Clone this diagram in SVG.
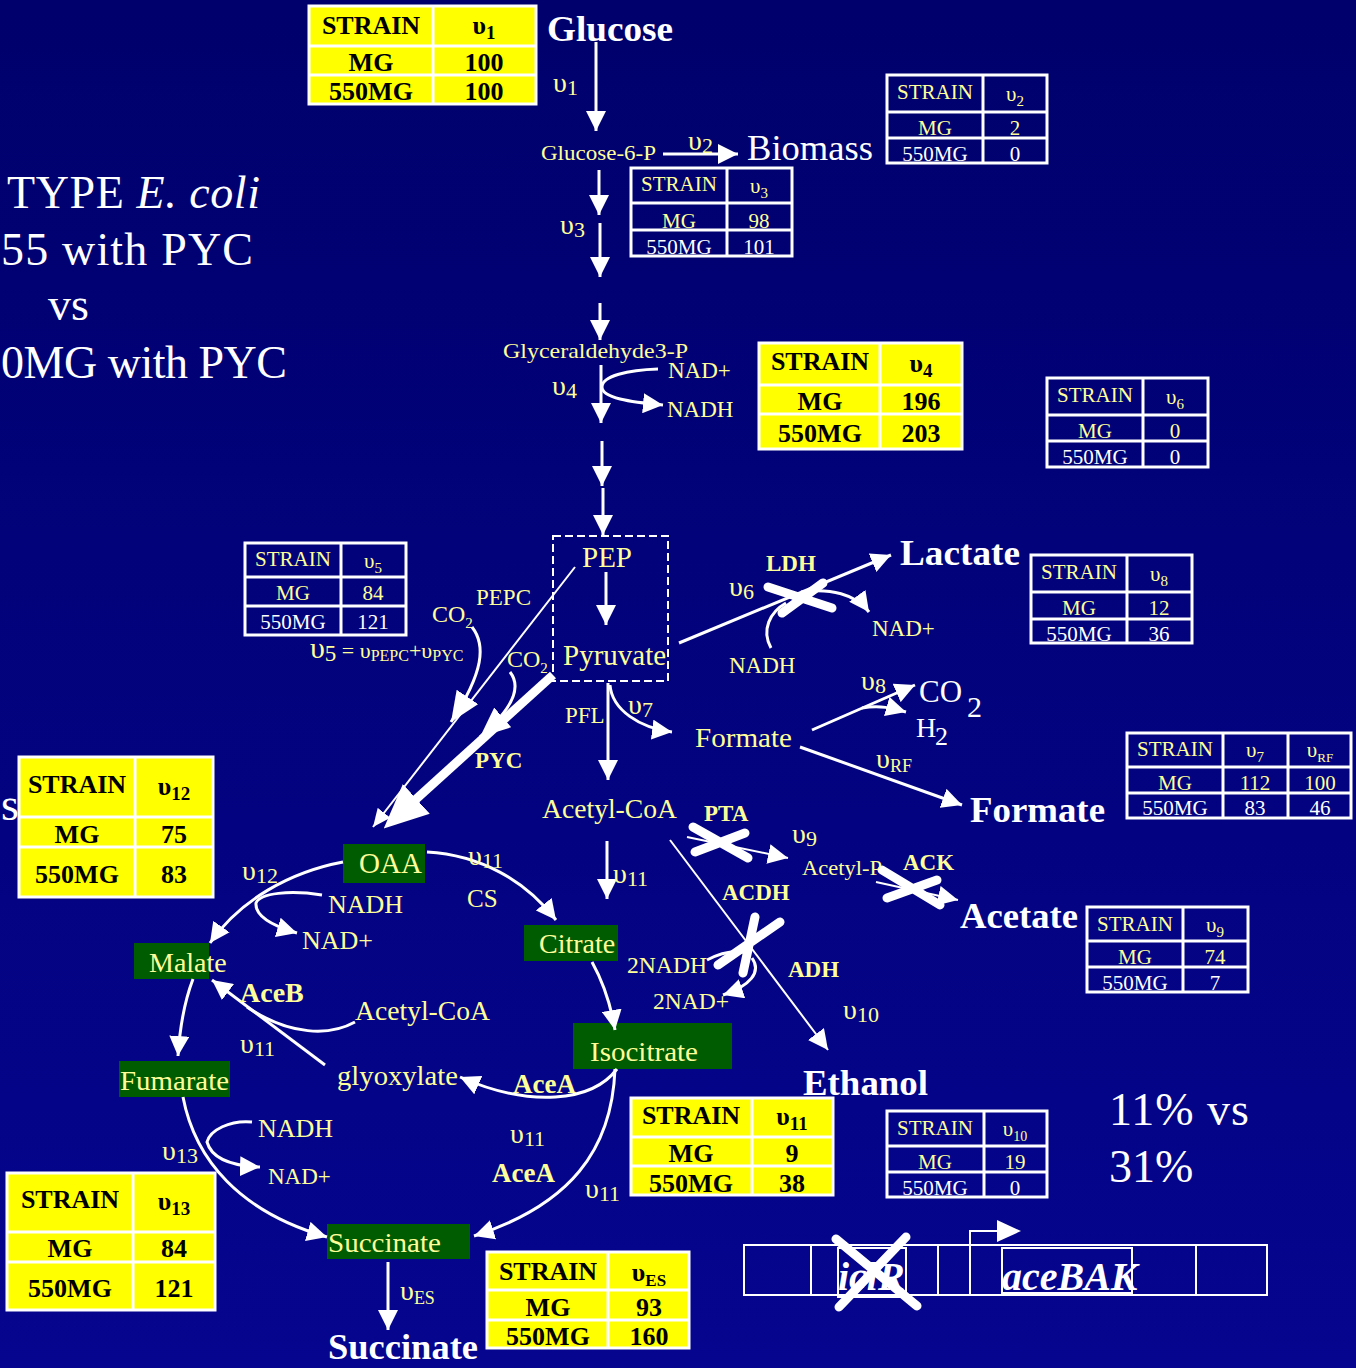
<svg xmlns="http://www.w3.org/2000/svg" width="1356" height="1368" viewBox="0 0 1356 1368">
<defs>
<linearGradient id="bg" x1="0" y1="0" x2="0" y2="1">
<stop offset="0" stop-color="#00006c"/>
<stop offset="1" stop-color="#05058f"/>
</linearGradient>
<marker id="ah" viewBox="0 0 20 20" markerWidth="20" markerHeight="20" refX="20" refY="10" orient="auto" markerUnits="userSpaceOnUse"><path d="M0,0L20,10L0,20z" fill="#fff"/></marker>
<marker id="as" viewBox="0 0 18 16" markerWidth="18" markerHeight="16" refX="18" refY="8" orient="auto" markerUnits="userSpaceOnUse"><path d="M0,0L18,8L0,16z" fill="#fff"/></marker>
<marker id="am" viewBox="0 0 30 26" markerWidth="30" markerHeight="26" refX="30" refY="13" orient="auto" markerUnits="userSpaceOnUse"><path d="M0,0L30,13L0,26z" fill="#fff"/></marker>
<marker id="al" viewBox="0 0 44 40" markerWidth="44" markerHeight="40" refX="18" refY="20" orient="auto" markerUnits="userSpaceOnUse"><path d="M0,0L44,20L0,40z" fill="#fff"/></marker>
<style>
text{font-family:'Liberation Serif','Times New Roman',serif}
.y{fill:#ffff99}
.w{fill:#ffffff}
.b{font-weight:bold}
.k{fill:#000;font-weight:bold;font-size:26px;text-anchor:middle}
.t{font-size:21px;text-anchor:middle}
.ln{stroke:#fff;stroke-width:3;fill:none}
.th{stroke:#fff;stroke-width:2;fill:none}
.ar{marker-end:url(#ah)}
.x{stroke:#fff;stroke-width:9;stroke-linecap:round;fill:none}
.tw{fill:none;stroke:#fff;stroke-width:3}
.ty{fill:#ffff00;stroke:#fff;stroke-width:3}
.gl{stroke:#fff;stroke-width:3;fill:none}
.gb{fill:#005c00}
.gene{fill:none;stroke:#fff;stroke-width:2}
</style>
</defs>
<rect width="1356" height="1368" fill="url(#bg)"/>

<!-- Title -->
<g id="title" class="w" font-size="46">
<text x="7" y="208" textLength="253" lengthAdjust="spacing">TYPE <tspan font-style="italic">E. coli</tspan></text>
<text x="1" y="265" textLength="252" lengthAdjust="spacing">55 with PYC</text>
<text x="48" y="320">vs</text>
<text x="1" y="378" textLength="286" lengthAdjust="spacing">0MG with PYC</text>
<text x="1" y="820">s</text>
</g>

<!-- Tables -->
<g id="table-v1">
<rect class="ty" x="309" y="6" width="227" height="98"/>
<path class="gl" d="M433,6V104M309,46H536M309,75H536"/>
<text class="k" x="371" y="34">STRAIN</text><text class="k" x="484" y="34">υ<tspan font-size="19" dy="5">1</tspan></text>
<text class="k" x="371" y="71">MG</text><text class="k" x="484" y="71">100</text>
<text class="k" x="371" y="100">550MG</text><text class="k" x="484" y="100">100</text>
</g>
<g id="table-v2">
<rect class="tw" x="887" y="75" width="160" height="88"/>
<path class="gl" d="M983,75V163M887,112H1047M887,138H1047"/>
<text class="t y" x="935" y="99">STRAIN</text><text class="t y" x="1015" y="101">υ<tspan font-size="15" dy="5">2</tspan></text>
<text class="t y" x="935" y="135">MG</text><text class="t y" x="1015" y="135">2</text>
<text class="t w" x="935" y="161">550MG</text><text class="t w" x="1015" y="161">0</text>
</g>
<g id="table-v3">
<rect class="tw" x="631" y="168" width="161" height="88"/>
<path class="gl" d="M727,168V256M631,203H792M631,230H792"/>
<text class="t y" x="679" y="191">STRAIN</text><text class="t y" x="759" y="193">υ<tspan font-size="15" dy="5">3</tspan></text>
<text class="t y" x="679" y="228">MG</text><text class="t y" x="759" y="228">98</text>
<text class="t w" x="679" y="254">550MG</text><text class="t w" x="759" y="254">101</text>
</g>
<g id="table-v4">
<rect class="ty" x="759" y="343" width="203" height="106"/>
<path class="gl" d="M880,343V449M759,385H962M759,414H962"/>
<text class="k" x="820" y="370">STRAIN</text><text class="k" x="921" y="372">υ<tspan font-size="19" dy="5">4</tspan></text>
<text class="k" x="820" y="410">MG</text><text class="k" x="921" y="410">196</text>
<text class="k" x="820" y="442">550MG</text><text class="k" x="921" y="442">203</text>
</g>
<g id="table-v6">
<rect class="tw" x="1047" y="378" width="161" height="89"/>
<path class="gl" d="M1143,378V467M1047,415H1208M1047,441H1208"/>
<text class="t y" x="1095" y="402">STRAIN</text><text class="t y" x="1175" y="404">υ<tspan font-size="15" dy="5">6</tspan></text>
<text class="t y" x="1095" y="438">MG</text><text class="t y" x="1175" y="438">0</text>
<text class="t w" x="1095" y="464">550MG</text><text class="t w" x="1175" y="464">0</text>
</g>
<g id="table-v5">
<rect class="tw" x="245" y="543" width="161" height="92"/>
<path class="gl" d="M341,543V635M245,577H406M245,606H406"/>
<text class="t y" x="293" y="566">STRAIN</text><text class="t y" x="373" y="568">υ<tspan font-size="15" dy="5">5</tspan></text>
<text class="t y" x="293" y="600">MG</text><text class="t y" x="373" y="600">84</text>
<text class="t w" x="293" y="629">550MG</text><text class="t w" x="373" y="629">121</text>
</g>
<g id="table-v8">
<rect class="tw" x="1031" y="555" width="161" height="88"/>
<path class="gl" d="M1127,555V643M1031,592H1192M1031,619H1192"/>
<text class="t y" x="1079" y="579">STRAIN</text><text class="t y" x="1159" y="581">υ<tspan font-size="15" dy="5">8</tspan></text>
<text class="t y" x="1079" y="615">MG</text><text class="t y" x="1159" y="615">12</text>
<text class="t w" x="1079" y="641">550MG</text><text class="t w" x="1159" y="641">36</text>
</g>
<g id="table-v7-vRF">
<rect class="tw" x="1127" y="733" width="224" height="85"/>
<path class="gl" d="M1223,733V818M1288,733V818M1127,767H1351M1127,793H1351"/>
<text class="t y" x="1175" y="756">STRAIN</text><text class="t y" x="1255" y="757">υ<tspan font-size="15" dy="5">7</tspan></text><text class="t y" x="1320" y="757">υ<tspan font-size="13" dy="5">RF</tspan></text>
<text class="t y" x="1175" y="790">MG</text><text class="t y" x="1255" y="790">112</text><text class="t y" x="1320" y="790">100</text>
<text class="t w" x="1175" y="815">550MG</text><text class="t w" x="1255" y="815">83</text><text class="t w" x="1320" y="815">46</text>
</g>
<g id="table-v12">
<rect class="ty" x="19" y="757" width="194" height="140"/>
<path class="gl" d="M135,757V897M19,817H213M19,847H213"/>
<text class="k" x="77" y="793">STRAIN</text><text class="k" x="174" y="795">υ<tspan font-size="19" dy="5">12</tspan></text>
<text class="k" x="77" y="843">MG</text><text class="k" x="174" y="843">75</text>
<text class="k" x="77" y="883">550MG</text><text class="k" x="174" y="883">83</text>
</g>
<g id="table-v9">
<rect class="tw" x="1087" y="907" width="161" height="85"/>
<path class="gl" d="M1183,907V992M1087,941H1248M1087,967H1248"/>
<text class="t y" x="1135" y="931">STRAIN</text><text class="t y" x="1215" y="932">υ<tspan font-size="15" dy="5">9</tspan></text>
<text class="t y" x="1135" y="964">MG</text><text class="t y" x="1215" y="964">74</text>
<text class="t w" x="1135" y="990">550MG</text><text class="t w" x="1215" y="990">7</text>
</g>
<g id="table-v11">
<rect class="ty" x="631" y="1098" width="202" height="97"/>
<path class="gl" d="M752,1098V1195M631,1137H833M631,1166H833"/>
<text class="k" x="691" y="1124">STRAIN</text><text class="k" x="792" y="1125">υ<tspan font-size="19" dy="5">11</tspan></text>
<text class="k" x="691" y="1162">MG</text><text class="k" x="792" y="1162">9</text>
<text class="k" x="691" y="1192">550MG</text><text class="k" x="792" y="1192">38</text>
</g>
<g id="table-v10">
<rect class="tw" x="887" y="1111" width="160" height="86"/>
<path class="gl" d="M984,1111V1197M887,1146H1047M887,1172H1047"/>
<text class="t y" x="935" y="1135">STRAIN</text><text class="t y" x="1015" y="1136">υ<tspan font-size="14" dy="5">10</tspan></text>
<text class="t y" x="935" y="1169">MG</text><text class="t y" x="1015" y="1169">19</text>
<text class="t w" x="935" y="1195">550MG</text><text class="t w" x="1015" y="1195">0</text>
</g>
<g id="table-v13">
<rect class="ty" x="7" y="1173" width="208" height="137"/>
<path class="gl" d="M133,1173V1310M7,1232H215M7,1262H215"/>
<text class="k" x="70" y="1208">STRAIN</text><text class="k" x="174" y="1210">υ<tspan font-size="19" dy="5">13</tspan></text>
<text class="k" x="70" y="1257">MG</text><text class="k" x="174" y="1257">84</text>
<text class="k" x="70" y="1297">550MG</text><text class="k" x="174" y="1297">121</text>
</g>
<g id="table-vES">
<rect class="ty" x="487" y="1252" width="202" height="96"/>
<path class="gl" d="M608,1252V1348M487,1290H689M487,1320H689"/>
<text class="k" x="548" y="1280">STRAIN</text><text class="k" x="649" y="1281">υ<tspan font-size="17" dy="5">ES</tspan></text>
<text class="k" x="548" y="1316">MG</text><text class="k" x="649" y="1316">93</text>
<text class="k" x="548" y="1345">550MG</text><text class="k" x="649" y="1345">160</text>
</g>

<!-- Green metabolite boxes -->
<g id="oaa"><rect class="gb" x="343" y="844" width="82" height="39"/><text class="y" x="359" y="873" font-size="29">OAA</text></g>
<g id="malate"><rect class="gb" x="134" y="943" width="75" height="36"/><text class="y" x="149" y="972" font-size="28">Malate</text></g>
<g id="fumarate"><rect class="gb" x="119" y="1061" width="111" height="36"/><text class="y" x="120" y="1090" font-size="28" textLength="109" lengthAdjust="spacingAndGlyphs">Fumarate</text></g>
<g id="succinate"><rect class="gb" x="327" y="1224" width="143" height="35"/><text class="y" x="328" y="1252" font-size="28" textLength="113" lengthAdjust="spacingAndGlyphs">Succinate</text></g>
<g id="citrate"><rect class="gb" x="524" y="925" width="94" height="36"/><text class="y" x="539" y="953" font-size="28">Citrate</text></g>
<g id="isocitrate"><rect class="gb" x="573" y="1023" width="159" height="46"/><text class="y" x="590" y="1061" font-size="28" textLength="108" lengthAdjust="spacingAndGlyphs">Isocitrate</text></g>

<!-- Connectors -->
<g id="connectors">
<path class="ln ar" d="M596,42V131"/>
<path class="ln ar" d="M663,154H738"/>
<path class="ln ar" d="M599,170V215"/>
<path class="ln ar" d="M600,223V277"/>
<path class="ln ar" d="M600,303V340"/>
<path class="ln ar" d="M601,365V423"/>
<path class="ln ar" d="M658,369C628,370 602,376 602,387C602,398 630,402 663,405"/>
<path class="ln ar" d="M602,441V486"/>
<path class="ln ar" d="M603,488V535"/>
<path class="ln ar" d="M606,572V625"/>
<path class="th" d="M575,567L373,827" marker-end="url(#as)"/>
<path class="ln" d="M472,627C486,645 484,672 451,722" marker-end="url(#am)"/>
<path d="M553,675L403,811" stroke="#fff" stroke-width="9" fill="none" marker-end="url(#al)"/>
<path class="ln" d="M510,672C521,686 516,706 480,737" marker-end="url(#am)"/>
<path class="ln ar" d="M608,683V780"/>
<path class="ln ar" d="M610,685C612,710 640,728 672,732"/>
<path class="ln ar" d="M679,643L891,555"/>
<path class="ln ar" d="M801,592C830,588 856,594 869,612"/>
<path class="ln" d="M771,648C761,630 770,612 786,603"/>
<path class="ln ar" d="M812,730L915,685"/>
<path class="ln ar" d="M862,708C880,705 892,708 906,712"/>
<path class="ln ar" d="M800,747L962,805"/>
<path class="ln ar" d="M607,841V899"/>
<path class="th ar" d="M687,837L788,858"/>
<path class="th ar" d="M876,882L958,900"/>
<path class="th ar" d="M670,840L828,1050"/>
<path class="ln" d="M707,960C720,953 735,950 748,953"/>
<path class="ln ar" d="M752,958C762,972 750,986 723,995"/>
<path class="ln ar" d="M427,852C480,855 525,880 556,920"/>
<path class="ln ar" d="M592,962C602,980 610,1000 615,1030"/>
<path class="ln ar" d="M617,1069C592,1102 530,1108 460,1077"/>
<path class="ln ar" d="M615,1069C612,1150 570,1205 474,1236"/>
<path class="ln ar" d="M343,862C290,872 240,900 210,943"/>
<path class="ln ar" d="M322,895C290,890 260,893 256,903C255,915 270,925 297,933"/>
<path class="ln ar" d="M325,1065L212,980"/>
<path class="ln" d="M355,1022C330,1036 290,1036 247,1007"/>
<path class="ln ar" d="M193,979C185,1000 180,1025 178,1056"/>
<path class="ln ar" d="M183,1097C195,1160 240,1212 327,1237"/>
<path class="ln ar" d="M252,1122C230,1120 210,1130 207,1142C212,1160 235,1166 260,1167"/>
<path class="ln ar" d="M388,1262V1330"/>
<path class="x" d="M768,587L832,608M782,613L823,583"/>
<path class="x" d="M693,827L748,858M695,852L745,833"/>
<path class="x" d="M882,870L940,905M887,898L937,880"/>
<path class="x" d="M718,965L780,922M755,917L743,973"/>
</g>

<!-- Pathway labels -->
<g id="glucose"><text class="w b" x="547" y="41" font-size="36" textLength="126" lengthAdjust="spacingAndGlyphs">Glucose</text></g>
<g id="g6p"><text class="y" x="541" y="160" font-size="22" textLength="115" lengthAdjust="spacingAndGlyphs">Glucose-6-P</text></g>
<g id="biomass"><text class="w" x="747" y="160" font-size="36" textLength="126" lengthAdjust="spacingAndGlyphs">Biomass</text></g>
<g id="g3p"><text class="y" x="503" y="358" font-size="22" textLength="185" lengthAdjust="spacingAndGlyphs">Glyceraldehyde3-P</text>
<text class="y" x="668" y="378" font-size="23">NAD+</text><text class="y" x="667" y="417" font-size="23">NADH</text></g>
<g id="pep-pyruvate">
<rect x="553" y="536" width="115" height="145" fill="none" stroke="#fff" stroke-width="2" stroke-dasharray="8 4"/>
<text class="y" x="582" y="567" font-size="29">PEP</text>
<text class="y" x="563" y="665" font-size="29">Pyruvate</text>
</g>
<g id="pepc-labels" class="y">
<text x="476" y="605" font-size="23">PEPC</text>
<text x="432" y="622" font-size="24">CO<tspan font-size="15" dy="6">2</tspan></text>
<text x="507" y="667" font-size="24">CO<tspan font-size="15" dy="6">2</tspan></text>
<text class="b" x="475" y="768" font-size="23">PYC</text>
<text x="310" y="658" font-size="30">υ<tspan font-size="23" dy="3">5</tspan><tspan font-size="22" dy="-3"> = υ</tspan><tspan font-size="16" dy="3">PEPC</tspan><tspan font-size="22" dy="-3">+υ</tspan><tspan font-size="16" dy="3">PYC</tspan></text>
<text x="565" y="723" font-size="23">PFL</text>
</g>
<g id="lactate">
<text class="w b" x="900" y="565" font-size="36" textLength="120" lengthAdjust="spacingAndGlyphs">Lactate</text>
<text class="y b" x="766" y="571" font-size="23">LDH</text>
<text class="y" x="729" y="673" font-size="23">NADH</text>
<text class="y" x="872" y="636" font-size="23">NAD+</text>
</g>
<g id="formate-in">
<text class="y" x="695" y="747" font-size="28" textLength="97" lengthAdjust="spacingAndGlyphs">Formate</text>
</g>
<g id="co2-h2" class="w">
<text x="919" y="702" font-size="31">CO</text><text x="967" y="717" font-size="30">2</text>
<text x="916" y="737" font-size="28">H</text><text x="935" y="745" font-size="26">2</text>
</g>
<g id="formate-out"><text class="w b" x="970" y="822" font-size="36" textLength="135" lengthAdjust="spacingAndGlyphs">Formate</text></g>
<g id="acetylcoa">
<text class="y" x="542" y="818" font-size="28" textLength="135" lengthAdjust="spacingAndGlyphs">Acetyl-CoA</text>
<text class="y b" x="704" y="821" font-size="23">PTA</text>
<text class="y b" x="722" y="900" font-size="23">ACDH</text>
<text class="y b" x="788" y="977" font-size="23">ADH</text>
<text class="y" x="627" y="973" font-size="23" textLength="80" lengthAdjust="spacingAndGlyphs">2NADH</text>
<text class="y" x="653" y="1009" font-size="23" textLength="76" lengthAdjust="spacingAndGlyphs">2NAD+</text>
</g>
<g id="acetylp">
<text class="y" x="802" y="875" font-size="22" textLength="80" lengthAdjust="spacingAndGlyphs">Acetyl-P</text>
<text class="y b" x="903" y="870" font-size="23">ACK</text>
</g>
<g id="acetate"><text class="w b" x="960" y="928" font-size="36" textLength="118" lengthAdjust="spacingAndGlyphs">Acetate</text></g>
<g id="ethanol"><text class="w b" x="803" y="1095" font-size="36" textLength="125" lengthAdjust="spacingAndGlyphs">Ethanol</text></g>
<g id="tca-labels" class="y">
<text x="467" y="907" font-size="25">CS</text>
<text x="328" y="913" font-size="26">NADH</text>
<text x="302" y="949" font-size="26">NAD+</text>
<text class="b" x="240" y="1002" font-size="28">AceB</text>
<text x="355" y="1020" font-size="28" textLength="135" lengthAdjust="spacingAndGlyphs">Acetyl-CoA</text>
<text x="337" y="1085" font-size="28" textLength="121" lengthAdjust="spacingAndGlyphs">glyoxylate</text>
<text class="b" x="513" y="1093" font-size="27">AceA</text>
<text class="b" x="492" y="1182" font-size="27">AceA</text>
<text x="258" y="1137" font-size="26">NADH</text>
<text x="268" y="1184" font-size="23">NAD+</text>
</g>
<g id="succinate-out"><text class="w b" x="328" y="1359" font-size="35" textLength="150" lengthAdjust="spacingAndGlyphs">Succinate</text></g>

<!-- Flux labels -->
<g id="flux-labels" class="y" font-size="28">
<text x="553" y="92">υ<tspan font-size="22" dy="3">1</tspan></text>
<text x="688" y="150">υ<tspan font-size="22" dy="3">2</tspan></text>
<text x="560" y="234">υ<tspan font-size="22" dy="3">3</tspan></text>
<text x="552" y="395">υ<tspan font-size="22" dy="3">4</tspan></text>
<text x="729" y="596">υ<tspan font-size="22" dy="3">6</tspan></text>
<text x="628" y="714">υ<tspan font-size="22" dy="3">7</tspan></text>
<text x="861" y="690">υ<tspan font-size="22" dy="3">8</tspan></text>
<text x="876" y="768">υ<tspan font-size="18" dy="4">RF</tspan></text>
<text x="792" y="843">υ<tspan font-size="22" dy="3">9</tspan></text>
<text x="843" y="1019">υ<tspan font-size="22" dy="3">10</tspan></text>
<text x="468" y="865">υ<tspan font-size="22" dy="3">11</tspan></text>
<text x="613" y="883">υ<tspan font-size="22" dy="3">11</tspan></text>
<text x="240" y="1053">υ<tspan font-size="22" dy="3">11</tspan></text>
<text x="510" y="1143">υ<tspan font-size="22" dy="3">11</tspan></text>
<text x="585" y="1198">υ<tspan font-size="22" dy="3">11</tspan></text>
<text x="242" y="880">υ<tspan font-size="22" dy="3">12</tspan></text>
<text x="162" y="1160">υ<tspan font-size="22" dy="3">13</tspan></text>
<text x="400" y="1300">υ<tspan font-size="18" dy="4">ES</tspan></text>
</g>

<!-- Percentages -->
<g id="percent" class="w" font-size="46">
<text x="1109" y="1125" textLength="140" lengthAdjust="spacing">11% vs</text>
<text x="1109" y="1182">31%</text>
</g>

<!-- Gene map -->
<g id="gene-map">
<rect class="gene" x="744" y="1245" width="523" height="50"/>
<path class="gene" d="M811,1245V1295M938,1245V1295M970,1245V1295M1196,1245V1295"/>
<rect class="gene" x="838" y="1248" width="68" height="49"/>
<rect class="gene" x="1002" y="1248" width="130" height="45"/>
<path class="gene" d="M970,1245V1231H998"/>
<path d="M997,1220L1021,1231L997,1242z" fill="#fff"/>
<text class="w b" x="838" y="1290" font-size="40" font-style="italic">iclR</text>
<text class="w b" x="1002" y="1290" font-size="40" font-style="italic">aceBAK</text>
<path class="x" d="M836,1239L917,1306M906,1237L839,1307" stroke-width="6"/>
</g>
</svg>
